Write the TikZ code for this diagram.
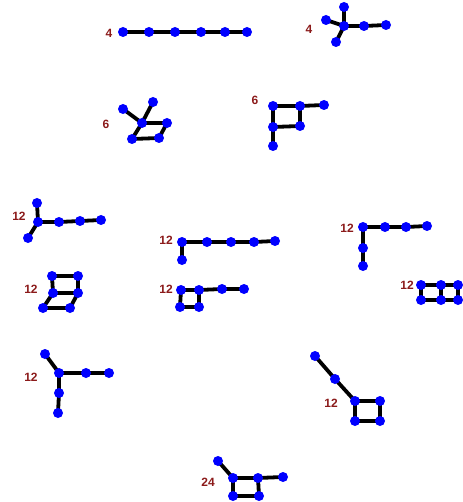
\documentclass[tikz,border=0pt]{standalone}
\usepackage{fontspec}
\setmainfont{Liberation Sans}
\usetikzlibrary{backgrounds}
\definecolor{labred}{RGB}{139,26,26}
\begin{document}
\begin{tikzpicture}[x=1pt,y=-1pt,
  v/.style={circle,fill=blue,inner sep=0pt,minimum size=10pt},
  ed/.style={line width=3.8pt,black},
  lab/.style={text=labred,font=\bfseries\fontsize{12}{12}\selectfont,inner sep=0pt}]
\useasboundingbox (0,0) rectangle (462,502);
% A
\node[lab] (la) at (109,33) {4};
\foreach \n/\x in {1/123,2/149,3/175,4/201,5/225,6/247} \node[v] (a\n) at (\x,32) {};
% B
\node[lab] (lb) at (309,29) {4};
\node[v] (b0) at (344,26) {}; \node[v] (bt) at (344,7) {}; \node[v] (bl) at (326,20) {};
\node[v] (bb) at (336,42) {}; \node[v] (b1) at (364,26) {}; \node[v] (b2) at (386,25) {};
% C
\node[lab] (lc) at (106,124) {6};
\node[v] (c1) at (123,109) {}; \node[v] (c2) at (153,102) {}; \node[v] (c3) at (142,123) {};
\node[v] (c4) at (167,123) {}; \node[v] (c5) at (132,139) {}; \node[v] (c6) at (159,138) {};
% D
\node[lab] (ld) at (255,100) {6};
\node[v] (d1) at (273,106) {}; \node[v] (d2) at (300,106) {}; \node[v] (d3) at (324,105) {};
\node[v] (d4) at (273,127) {}; \node[v] (d5) at (300,126) {}; \node[v] (d6) at (273,146) {};
% E
\node[lab] (le) at (19,216) {12};
\node[v] (e0) at (38,222) {}; \node[v] (et) at (37,203) {}; \node[v] (eb) at (28,238) {};
\node[v] (e1) at (59,222) {}; \node[v] (e2) at (80,221) {}; \node[v] (e3) at (101,220) {};
% F
\node[lab] (lf) at (31,289) {12};
\node[v] (f1) at (52,276) {}; \node[v] (f2) at (78,276) {}; \node[v] (f3) at (53,293) {};
\node[v] (f4) at (78,293) {}; \node[v] (f5) at (43,308) {}; \node[v] (f6) at (70,308) {};
% G
\node[lab] (lg) at (166,240) {12};
\node[v] (g1) at (182,242) {}; \node[v] (g2) at (207,242) {}; \node[v] (g3) at (231,242) {};
\node[v] (g4) at (254,242) {}; \node[v] (g5) at (275,241) {}; \node[v] (g6) at (182,260) {};
% H
\node[lab] (lh) at (347,228) {12};
\node[v] (h1) at (363,227) {}; \node[v] (h2) at (385,227) {}; \node[v] (h3) at (406,227) {};
\node[v] (h4) at (427,226) {}; \node[v] (h5) at (363,248) {}; \node[v] (h6) at (363,266) {};
% I
\node[lab] (li) at (166,289) {12};
\node[v] (i1) at (181,290) {}; \node[v] (i2) at (199,290) {}; \node[v] (i3) at (222,289) {};
\node[v] (i4) at (244,289) {}; \node[v] (i5) at (180,307) {}; \node[v] (i6) at (199,307) {};
% J
\node[lab] (lj) at (407,285) {12};
\node[v] (j1) at (421,285) {}; \node[v] (j2) at (441,285) {}; \node[v] (j3) at (458,285) {};
\node[v] (j4) at (421,300) {}; \node[v] (j5) at (441,300) {}; \node[v] (j6) at (458,300) {};
% K
\node[lab] (lk) at (31,377) {12};
\node[v] (k0) at (59,373) {}; \node[v] (ku) at (45,354) {}; \node[v] (k1) at (86,373) {};
\node[v] (k2) at (109,373) {}; \node[v] (k3) at (59,393) {}; \node[v] (k4) at (58,413) {};
% L
\node[lab] (ll) at (331,403) {12};
\node[v] (l1) at (315,356) {}; \node[v] (l2) at (335,379) {}; \node[v] (l3) at (355,401) {};
\node[v] (l4) at (380,401) {}; \node[v] (l5) at (355,421) {}; \node[v] (l6) at (380,421) {};
% M
\node[lab] (lm) at (208,482) {24};
\node[v] (m0) at (233,478) {}; \node[v] (mu) at (218,461) {}; \node[v] (m1) at (258,478) {};
\node[v] (m2) at (283,477) {}; \node[v] (m3) at (233,496) {}; \node[v] (m4) at (259,496) {};
\begin{scope}[on background layer]
\draw[ed] (a1.center) -- (a2.center) -- (a3.center) -- (a4.center) -- (a5.center) -- (a6.center);
\draw[ed] (bt.center) -- (b0.center) -- (b1.center) -- (b2.center);
\draw[ed] (bl.center) -- (b0.center) -- (bb.center);
\draw[ed] (c1.center) -- (c3.center) -- (c2.center);
\draw[ed] (c3.center) -- (c4.center) -- (c6.center) -- (c5.center) -- (c3.center);
\draw[ed] (d6.center) -- (d4.center) -- (d1.center) -- (d2.center) -- (d3.center);
\draw[ed] (d4.center) -- (d5.center) -- (d2.center);
\draw[ed] (et.center) -- (e0.center) -- (eb.center);
\draw[ed] (e0.center) -- (e1.center) -- (e2.center) -- (e3.center);
\draw[ed] (f1.center) -- (f2.center) -- (f4.center) -- (f6.center) -- (f5.center) -- (f3.center) -- (f1.center);
\draw[ed] (f3.center) -- (f4.center);
\draw[ed] (g6.center) -- (g1.center) -- (g2.center) -- (g3.center) -- (g4.center) -- (g5.center);
\draw[ed] (h6.center) -- (h5.center) -- (h1.center) -- (h2.center) -- (h3.center) -- (h4.center);
\draw[ed] (i4.center) -- (i3.center) -- (i2.center) -- (i1.center) -- (i5.center) -- (i6.center) -- (i2.center);
\draw[ed] (j1.center) -- (j2.center) -- (j3.center) -- (j6.center) -- (j5.center) -- (j4.center) -- (j1.center);
\draw[ed] (j2.center) -- (j5.center);
\draw[ed] (ku.center) -- (k0.center) -- (k1.center) -- (k2.center);
\draw[ed] (k0.center) -- (k3.center) -- (k4.center);
\draw[ed] (l1.center) -- (l2.center) -- (l3.center) -- (l4.center) -- (l6.center) -- (l5.center) -- (l3.center);
\draw[ed] (mu.center) -- (m0.center) -- (m1.center) -- (m2.center);
\draw[ed] (m0.center) -- (m3.center) -- (m4.center) -- (m1.center);
\end{scope}
\end{tikzpicture}
\end{document}
